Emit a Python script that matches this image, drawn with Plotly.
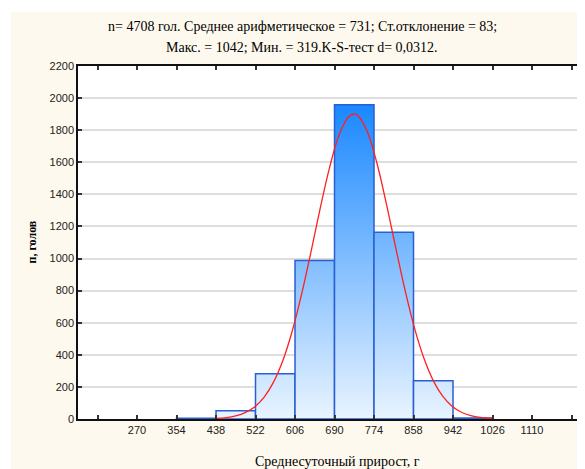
import plotly.graph_objects as go

# Histogram bins (lower/upper edges) and counts
bin_left = [354, 438, 522, 606, 690, 774, 858, 942]
bin_right = [438, 522, 606, 690, 774, 858, 942, 1026]
counts = [4, 52, 282, 988, 1958, 1164, 238, 6]

# Fitted normal curve
curve_x = [438, 460, 480, 500, 520, 540, 560, 580, 600, 620, 640, 660, 680, 700, 720, 731,
           740, 760, 780, 800, 820, 840, 860, 880, 900, 920, 940, 960, 980, 1000, 1026]
curve_y = [4, 9, 20, 40, 75, 135, 228, 363, 547, 778, 1042, 1319, 1573, 1773, 1884, 1901,
           1890, 1789, 1597, 1346, 1070, 803, 568, 380, 239, 142, 80, 42, 21, 10, 3]

# Axis ticks
x_tickvals = [186, 270, 354, 438, 522, 606, 690, 774, 858, 942, 1026, 1110, 1194]
x_ticktext = ["", "270", "354", "438", "522", "606", "690", "774", "858", "942", "1026", "1110", ""]
y_tickvals = [0, 200, 400, 600, 800, 1000, 1200, 1400, 1600, 1800, 2000, 2200]

title_line1 = "n= 4708 гол. Среднее арифметическое = 731; Ст.отклонение = 83;"
title_line2 = "Макс. = 1042; Мин. = 319.K-S-тест d= 0,0312."
x_title = "Среднесуточный прирост, г"
y_title = "п, голов"

OFF = 8  # page body margin
W, H = 585 - OFF, 469 - OFF
L, R, T, B = 78 - OFF, 0, 66 - OFF, 469 - 419
pw, ph = W - L - R, H - T - B


def px_x(px):  # page pixel -> paper x
    return (px - OFF - L) / pw


def px_y(py):  # page pixel -> paper y
    return (H - B - (py - OFF)) / ph


fig = go.Figure()

gmax = max(counts)
for l, r, c in zip(bin_left, bin_right, counts):
    fig.add_trace(go.Scatter(
        x=[l, l, r, r, l], y=[0, c, c, 0, 0],
        mode="lines", fill="toself",
        fillgradient=dict(type="vertical",
                          colorscale=[[0, "#e9f4ff"], [1, "#1a88ff"]],
                          start=0, stop=gmax),
        line=dict(color="#2a5fd3", width=1.5),
        hoverinfo="skip", showlegend=False,
    ))

fig.add_trace(go.Scatter(
    x=curve_x, y=curve_y, mode="lines",
    line=dict(color="#ff2020", width=1.3, shape="spline"),
    showlegend=False,
))

serif = "Liberation Serif"
sans = "Liberation Sans"

fig.update_layout(
    width=W, height=H,
    margin=dict(l=L, r=R, t=T, b=B, pad=0),
    paper_bgcolor="#fef9ee",
    plot_bgcolor="#ffffff",
    showlegend=False,
    xaxis=dict(
        range=[144.5, 1222.7], tickmode="array", tickvals=x_tickvals, ticktext=x_ticktext,
        showgrid=False, zeroline=False, showline=True, linecolor="#111", linewidth=1.5,
        mirror="ticks", ticks="inside", ticklen=4, tickcolor="#333", tickwidth=1.5,
        tickfont=dict(family=sans, size=11, color="#222"),
    ),
    yaxis=dict(
        range=[0, 2200], tickmode="array", tickvals=y_tickvals,
        showgrid=True, gridcolor="#dedede", gridwidth=1.5, zeroline=False,
        showline=True, linecolor="#111", linewidth=1.5,
        ticks="inside", ticklen=4, tickcolor="#333", tickwidth=1.5,
        tickfont=dict(family=sans, size=11, color="#222"),
    ),
    shapes=[
        dict(type="rect", xref="paper", yref="paper", layer="above",
             x0=px_x(0), x1=px_x(600), y0=px_y(0), y1=px_y(12),
             fillcolor="#ffffff", line=dict(width=0)),
        dict(type="rect", xref="paper", yref="paper", layer="above",
             x0=px_x(0), x1=px_x(11), y0=px_y(0), y1=px_y(480),
             fillcolor="#ffffff", line=dict(width=0)),
    ],
    annotations=[
        dict(text=title_line1, xref="paper", yref="paper", x=px_x(302), y=px_y(27),
             xanchor="center", yanchor="middle", showarrow=False,
             font=dict(family=serif, size=14, color="#000")),
        dict(text=title_line2, xref="paper", yref="paper", x=px_x(302), y=px_y(47),
             xanchor="center", yanchor="middle", showarrow=False,
             font=dict(family=serif, size=14, color="#000")),
        dict(text=x_title, xref="paper", yref="paper", x=px_x(337), y=px_y(461),
             xanchor="center", yanchor="middle", showarrow=False,
             font=dict(family=serif, size=14, color="#000")),
        dict(text="<b>" + y_title + "</b>", xref="paper", yref="paper", x=px_x(31), y=0.5,
             xanchor="center", yanchor="middle", showarrow=False, textangle=-90,
             font=dict(family=serif, size=12, color="#000")),
    ],
)

fig.write_html("out.html")
